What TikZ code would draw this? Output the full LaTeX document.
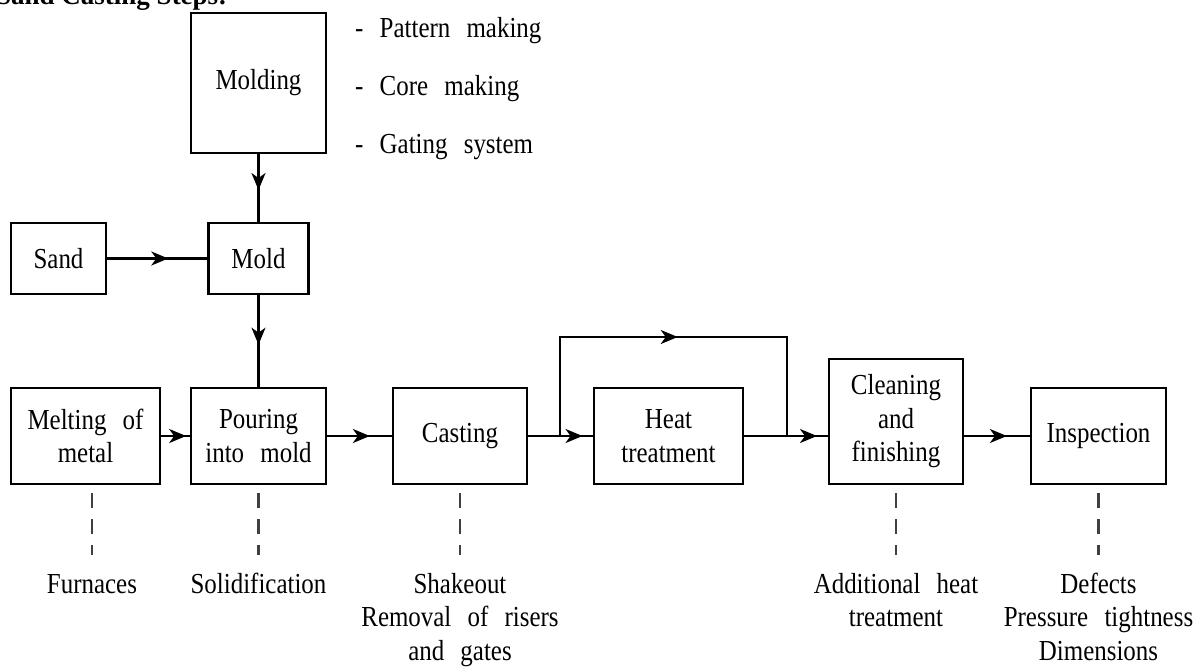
\documentclass[tikz,border=0pt]{standalone}
\usepackage{fontspec}
\setmainfont{Liberation Serif}[FakeStretch=0.86, WordSpace=2.6]
\newfontfamily\titlefont{Liberation Serif}
\usetikzlibrary{arrows.meta,decorations.markings}
\tikzset{
  box/.style={draw, line width=2.2pt, inner sep=0pt, align=center},
  lbl/.style={inner sep=0pt, align=center, anchor=base},
  item/.style={inner sep=0pt, anchor=base west},
  flow/.style={line width=2.2pt},
  dashline/.style={line width=2.2pt, black!75, dash pattern=on 15pt off 11pt, shorten <=8pt},
  midarrow/.style={postaction={decorate}, decoration={markings,
     mark=at position #1 with {\arrow{Stealth[length=17pt,width=14pt,inset=5pt]}}}}
}
\begin{document}
\begin{tikzpicture}[x=1pt,y=-1pt,font=\fontsize{29}{33.5}\selectfont]
\clip (0,0) rectangle (1199,667);
\fill[white] (0,0) rectangle (1199,667);

% title (cut off at the top, as in the reference)
\node[item] (title) at (-4,4) {\titlefont\bfseries\fontsize{27}{33}\selectfont Sand Casting Steps:};

% boxes
\node[box, minimum width=135pt, minimum height=140pt] (molding) at (258.5,83) {Molding};
\node[box, minimum width=95pt, minimum height=71pt] (sand) at (58.5,258.5) {Sand};
\node[box, minimum width=100pt, minimum height=71pt] (mold) at (258.5,258.5) {Mold};
\node[box, minimum width=149pt, minimum height=96pt] (melt) at (85.5,436) {Melting of\\metal};
\node[box, minimum width=135pt, minimum height=96pt] (pour) at (258.5,436) {Pouring\\into mold};
\node[box, minimum width=134pt, minimum height=96pt] (cast) at (460,436) {Casting};
\node[box, minimum width=149pt, minimum height=96pt] (heat) at (668.5,436) {Heat\\treatment};
\node[box, minimum width=134pt, minimum height=125pt] (clean) at (896,421.5) {Cleaning\\and\\finishing};
\node[box, minimum width=135pt, minimum height=96pt] (insp) at (1098.5,436) {Inspection};

% molding list
\node[item] (pm) at (355,37) {- Pattern making};
\node[item] (cm) at (355,95) {- Core making};
\node[item] (gs) at (355,153) {- Gating system};

% bottom labels (base = baseline of the last line)
\node[lbl] (furn) at (92,593) {Furnaces};
\node[lbl] (solid) at (258.5,593) {Solidification};
\node[lbl] (shake) at (460,660) {Shakeout\\Removal of risers\\and gates};
\node[lbl] (addl) at (896,626.5) {Additional heat\\treatment};
\node[lbl] (defects) at (1098.5,660) {Defects\\Pressure tightness\\Dimensions};

% connectors
\draw[flow, midarrow=0.61] (sand.east) -- (mold.west);
\draw[flow, midarrow=0.53] (molding.south) -- (mold.north);
\draw[flow, midarrow=0.54] (mold.south) -- (pour.north);
\draw[flow, midarrow=0.87] (melt.east) -- (pour.west);
\draw[flow, midarrow=0.66] (pour.east) -- (cast.west);
\draw[flow, midarrow=0.84] (cast.east) -- (heat.west);
\draw[flow, midarrow=0.87] (heat.east) -- (heat.east -| clean.west);
\draw[flow, midarrow=0.65] (insp.west -| clean.east) -- (insp.west);

% bypass
\coordinate (b1) at (560,436);
\coordinate (b2) at (787,436);
\draw[flow, midarrow=0.51] (b1) -- (560,337) -- (787,337) -- (b2);

% dashed leaders
\draw[dashline] (melt.south -| furn.base) -- (furn.base |- 0,555);
\draw[dashline] (pour.south) -- (solid.base |- 0,555);
\draw[dashline] (cast.south) -- (shake.base |- 0,555);
\draw[dashline] (clean.south) -- (addl.base |- 0,555);
\draw[dashline] (insp.south) -- (defects.base |- 0,555);
\end{tikzpicture}
\end{document}
